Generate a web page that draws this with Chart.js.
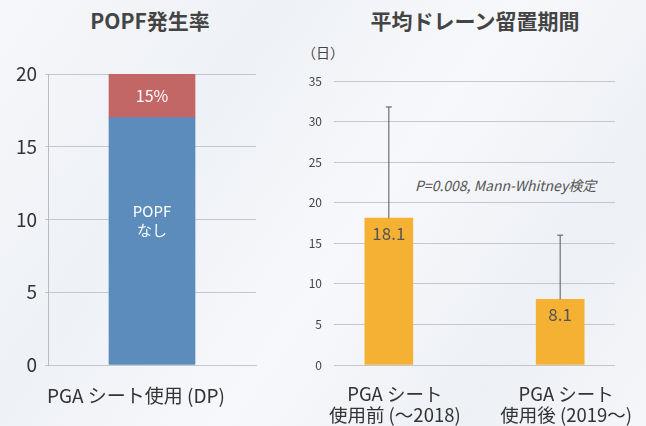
<!DOCTYPE html>
<html>
<head>
<meta charset="utf-8">
<script src="https://cdn.jsdelivr.net/npm/chart.js@4"></script>
<style>
  html, body { margin: 0; padding: 0; }
  body {
    width: 646px; height: 426px; position: relative; overflow: hidden;
    font-family: "Noto Sans CJK JP", "Noto Sans", sans-serif;
    background: linear-gradient(125deg, #f6f7fa 0%, #eef1f6 30%, #f7f8fb 55%, #edf0f5 80%, #f5f6f9 100%);
  }
  .title { position: absolute; top: 5px; font-weight: bold; font-size: 21px; color: #444; text-align: center; }
  .unit { position: absolute; left: 302px; top: 42px; font-size: 14px; color: #444; }
  .note { position: absolute; left: 415px; top: 175px; font-size: 14px; font-style: italic; color: #555; }
  canvas { position: absolute; top: 0; }
</style>
</head>
<body>
<div class="title" style="left:45px;width:210px">POPF発生率</div>
<div class="title" style="left:360px;width:230px">平均ドレーン留置期間</div>
<div class="unit">（日）</div>
<div class="note">P=0.008, Mann-Whitney検定</div>
<div style="position:absolute;left:0;top:0;width:300px;height:426px"><canvas id="popf"></canvas></div>
<div style="position:absolute;left:290px;top:0;width:356px;height:426px"><canvas id="drain"></canvas></div>
<script>
/* ---------- data ---------- */
const popfCats   = ["PGA シート使用 (DP)"];
const popfNone   = [17];      // POPFなし
const popfYes    = [3];       // POPFあり (15%)
const popfLabels = ["15%"];

const drainCats  = [["PGA シート", "使用前 (〜2018)"], ["PGA シート", "使用後 (2019〜)"]];
const drainMean  = [18.1, 8.1];
const drainSD    = [13.7, 7.9];

const FONT = '"Noto Sans CJK JP", "Noto Sans", sans-serif';
const GRID = "#c4c7cd";

/* ---------- left: stacked bar ---------- */
const popfText = {
  id: "popfText",
  afterDatasetsDraw(chart) {
    const ctx = chart.ctx;
    const top = chart.getDatasetMeta(1).data[0];
    const low = chart.getDatasetMeta(0).data[0];
    ctx.save();
    ctx.fillStyle = "#fff";
    ctx.textAlign = "center";
    ctx.textBaseline = "middle";
    ctx.font = "16px " + FONT;
    ctx.fillText(popfLabels[0], top.x, (top.y + top.base) / 2);
    ctx.font = "15px " + FONT;
    ctx.fillText("POPF", low.x, low.y + 94);
    ctx.fillText("なし", low.x, low.y + 113);
    ctx.restore();
  }
};

new Chart(document.getElementById("popf"), {
  type: "bar",
  data: {
    labels: popfCats,
    datasets: [
      { data: popfNone, backgroundColor: "#5b8cbb", barThickness: 86 },
      { data: popfYes,  backgroundColor: "#c26666", barThickness: 86 },
    ],
  },
  options: {
    responsive: true,
    maintainAspectRatio: false,
    animation: false,
    layout: { padding: { top: 74, right: 44, left: 0, bottom: 0 } },
    plugins: { legend: { display: false }, tooltip: { enabled: false } },
    scales: {
      x: {
        stacked: true,
        grid: { display: false },
        border: { color: GRID },
        ticks: { color: "#333", font: { family: FONT, size: 19 }, padding: 11, labelOffset: -16 },
        afterFit: s => { s.height = 61; },
      },
      y: {
        stacked: true,
        min: 0, max: 20,
        grid: { color: GRID, tickLength: 3 },
        border: { color: "#b8bbc1" },
        ticks: { stepSize: 5, color: "#333", font: { family: FONT, size: 19 }, padding: 8 },
        afterFit: s => { s.width = 48; },
      },
    },
  },
  plugins: [popfText],
});

/* ---------- right: bars with error bars ---------- */
const drainExtras = {
  id: "drainExtras",
  afterDatasetsDraw(chart) {
    const ctx = chart.ctx;
    const y = chart.scales.y;
    chart.getDatasetMeta(0).data.forEach((bar, i) => {
      const yTop = y.getPixelForValue(drainMean[i] + drainSD[i]);
      ctx.save();
      ctx.strokeStyle = "#555";
      ctx.lineWidth = 1;
      ctx.beginPath();
      ctx.moveTo(bar.x, bar.y);
      ctx.lineTo(bar.x, yTop);
      ctx.moveTo(bar.x - 3, yTop);
      ctx.lineTo(bar.x + 3, yTop);
      ctx.stroke();
      ctx.fillStyle = "#555";
      ctx.font = "17px " + FONT;
      ctx.textAlign = "center";
      ctx.textBaseline = "middle";
      ctx.fillText(drainMean[i].toFixed(1), bar.x, bar.y + 15);
      ctx.restore();
    });
  }
};

new Chart(document.getElementById("drain"), {
  type: "bar",
  data: {
    datasets: [{
      data: drainMean.map((v, i) => ({ x: i, y: v })),
      backgroundColor: "#f5b133",
      barThickness: 48,
    }],
  },
  options: {
    responsive: true,
    maintainAspectRatio: false,
    animation: false,
    layout: { padding: { top: 81, right: 31, left: 0, bottom: 0 } },
    plugins: { legend: { display: false }, tooltip: { enabled: false } },
    scales: {
      x: {
        type: "linear",
        offset: false,
        min: -0.32, max: 1.32,
        grid: { display: false, offset: false },
        border: { display: false },
        afterBuildTicks: s => { s.ticks = drainCats.map((_, i) => ({ value: i })); },
        ticks: {
          color: "#333",
          font: { family: FONT, size: 18.5, lineHeight: 1.1 },
          padding: 11,
          labelOffset: 6,
          maxRotation: 0,
          autoSkip: false,
          callback: v => drainCats[v],
        },
        afterFit: s => { s.height = 61; },
      },
      y: {
        min: 0, max: 35,
        grid: { color: GRID, drawTicks: false },
        border: { display: false },
        ticks: { stepSize: 5, color: "#444", font: { family: FONT, size: 12 }, padding: 12 },
        afterFit: s => { s.width = 44; },
      },
    },
  },
  plugins: [drainExtras],
});
</script>
</body>
</html>
